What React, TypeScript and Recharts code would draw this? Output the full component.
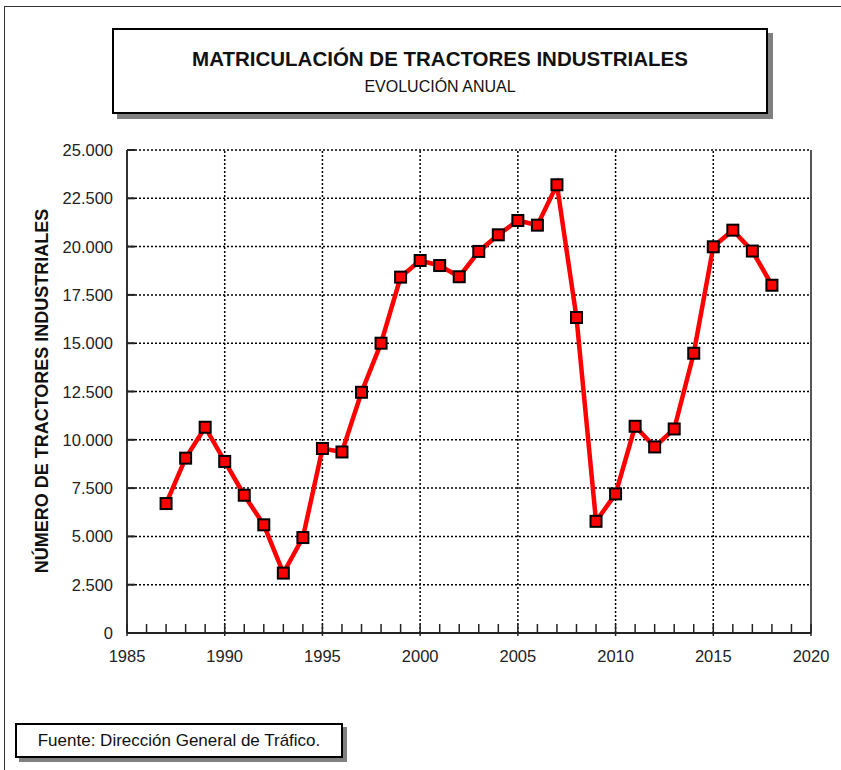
import React from "react";
import {
  LineChart,
  Line,
  XAxis,
  YAxis,
  CartesianGrid,
  ReferenceLine,
} from "recharts";

const years = [
  1987, 1988, 1989, 1990, 1991, 1992, 1993, 1994, 1995, 1996, 1997, 1998,
  1999, 2000, 2001, 2002, 2003, 2004, 2005, 2006, 2007, 2008, 2009, 2010,
  2011, 2012, 2013, 2014, 2015, 2016, 2017, 2018,
];
const registrations = [
  6700, 9050, 10650, 8880, 7130, 5600, 3100, 4940, 9550, 9370, 12460, 15000,
  18420, 19280, 19020, 18440, 19750, 20610, 21350, 21110, 23200, 16330, 5780,
  7200, 10700, 9630, 10560, 14480, 19990, 20850, 19770, 18000,
];

const yTicks = [0, 2500, 5000, 7500, 10000, 12500, 15000, 17500, 20000, 22500, 25000];
const xMajorTicks = [1985, 1990, 1995, 2000, 2005, 2010, 2015, 2020];
const xGridLines = [1990, 1995, 2000, 2005, 2010, 2015];
const xAllTicks: number[] = [];
for (let y = 1985; y <= 2020; y++) xAllTicks.push(y);

const data = years.map((year, i) => ({ year, value: registrations[i] }));

const FONT = "'Liberation Sans', Arial, sans-serif";

const fmt = (v: number) => String(v).replace(/\B(?=(\d{3})+(?!\d))/g, ".");

function XTick(props: any) {
  const { x, y, payload } = props;
  const major = xMajorTicks.includes(payload.value);
  return (
    <g>
      <line x1={x} y1={major ? y + 3 : y} x2={x} y2={y - 9} stroke="#222" strokeWidth={1.5} />
      {major && (
        <text x={x} y={y + 29} textAnchor="middle" fontSize={16.5} fill="#222" fontFamily={FONT}>
          {payload.value}
        </text>
      )}
    </g>
  );
}

function YTick(props: any) {
  const { x, y, payload } = props;
  return (
    <g>
      <line x1={x} y1={y} x2={x + 8} y2={y} stroke="#222" strokeWidth={2} />
      <text x={x - 14} y={y + 6} textAnchor="end" fontSize={16.5} fill="#222" fontFamily={FONT}>
        {fmt(payload.value)}
      </text>
    </g>
  );
}

function SquareDot(props: any) {
  const { cx, cy } = props;
  if (cx == null || cy == null) return null;
  return (
    <rect
      x={cx - 5.5}
      y={cy - 5.5}
      width={11}
      height={11}
      fill="#ff0000"
      stroke="#000"
      strokeWidth={2}
    />
  );
}

export default function App() {
  return (
    <div
      style={{
        position: "absolute",
        left: 0,
        top: 0,
        width: 841,
        height: 770,
        overflow: "hidden",
        background: "#fff",
        fontFamily: FONT,
      }}
    >
      <div
        style={{
          position: "absolute",
          left: 4,
          top: 6,
          width: 837,
          height: 764,
          borderLeft: "1px solid #333",
          borderTop: "1px solid #333",
          boxSizing: "border-box",
        }}
      />
      <div
        style={{
          position: "absolute",
          left: 112,
          top: 28,
          width: 656,
          height: 86,
          border: "2px solid #000",
          boxSizing: "border-box",
          boxShadow: "5px 5px 0 #808080",
          background: "#fff",
          textAlign: "center",
          color: "#111",
        }}
      >
        <div style={{ fontSize: 20.5, fontWeight: "bold", marginTop: 17, lineHeight: "24px" }}>
          MATRICULACIÓN DE TRACTORES INDUSTRIALES
        </div>
        <div style={{ fontSize: 16, marginTop: 6, lineHeight: "20px" }}>EVOLUCIÓN ANUAL</div>
      </div>

      <div style={{ position: "absolute", left: 0, top: 0 }}>
        <LineChart
          width={841}
          height={770}
          data={data}
          margin={{ top: 150, right: 30, bottom: 107, left: 0 }}
        >
          <CartesianGrid
            vertical={false}
            stroke="#000"
            strokeDasharray="2 2"
            strokeWidth={1.5}
          />
          {xGridLines.map((g) => (
            <ReferenceLine
              key={g}
              x={g}
              stroke="#000"
              strokeDasharray="2 2"
              strokeWidth={1.5}
            />
          ))}
          <ReferenceLine x={2020} stroke="#555" strokeWidth={2} />
          <XAxis
            dataKey="year"
            type="number"
            domain={[1985, 2020]}
            ticks={xAllTicks}
            interval={0}
            height={30}
            tickSize={0}
            tickMargin={0}
            tick={<XTick />}
            axisLine={{ stroke: "#222", strokeWidth: 2 }}
          />
          <YAxis
            type="number"
            domain={[0, 25000]}
            ticks={yTicks}
            interval={0}
            width={127}
            tickSize={0}
            tickMargin={0}
            tick={<YTick />}
            axisLine={{ stroke: "#333", strokeWidth: 2 }}
          />
          <Line
            dataKey="value"
            stroke="#ff0000"
            strokeWidth={4.5}
            dot={<SquareDot />}
            activeDot={false}
            isAnimationActive={false}
          />
        </LineChart>
      </div>

      <div
        style={{
          position: "absolute",
          left: 42,
          top: 391,
          transform: "translate(-50%, -50%) rotate(-90deg)",
          whiteSpace: "nowrap",
          fontSize: 18,
          fontWeight: "bold",
          color: "#111",
        }}
      >
        NÚMERO DE TRACTORES INDUSTRIALES
      </div>

      <div
        style={{
          position: "absolute",
          left: 15,
          top: 723,
          width: 328,
          height: 35,
          border: "2px solid #000",
          boxSizing: "border-box",
          boxShadow: "4px 4px 0 #808080",
          background: "#fff",
          fontSize: 17,
          lineHeight: "31px",
          textAlign: "center",
          color: "#111",
        }}
      >
        Fuente: Dirección General de Tráfico.
      </div>
    </div>
  );
}
